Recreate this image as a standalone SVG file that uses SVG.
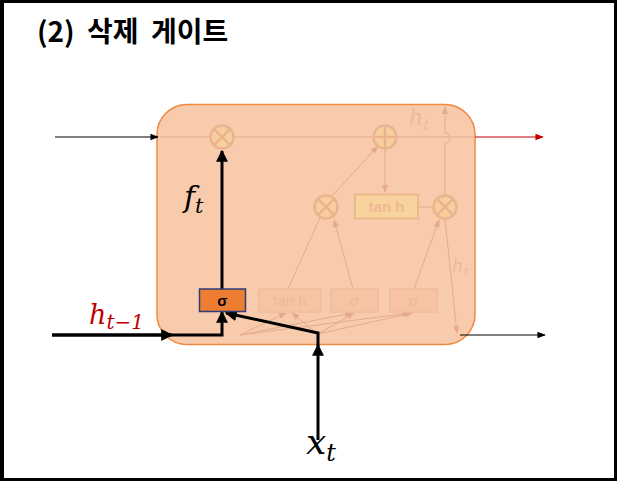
<svg xmlns="http://www.w3.org/2000/svg" width="617" height="481" viewBox="0 0 617 481">
<defs>
<style>
.fl{stroke:#e3ab8c;stroke-width:1;fill:none}
.fc{fill:#f7cf9c;stroke:#e9b48f;stroke-width:2.5}
.fx{stroke:#e9b48f;stroke-width:2.5}
.fb{fill:#f6c4a2;stroke:#efbc9c;stroke-width:1.5}
.ft{font-family:"Liberation Sans",Arial,sans-serif;font-size:15px;fill:#efb895;text-anchor:middle}
.bk{stroke:#000;stroke-width:3;fill:none}
.thin{stroke-width:1.2;fill:none}
.math{font-family:"DejaVu Serif","Liberation Serif",serif;font-style:italic}
</style>
<marker id="ab" viewBox="0 0 10 10" refX="9" refY="5" markerWidth="4" markerHeight="4" orient="auto"><path d="M0,0L10,5L0,10z" fill="#000"/></marker>
<marker id="abs" viewBox="0 0 10 10" refX="9" refY="5" markerWidth="7" markerHeight="7" orient="auto"><path d="M0,1L10,5L0,9z" fill="#000"/></marker>
<marker id="ar" viewBox="0 0 10 10" refX="9" refY="5" markerWidth="7" markerHeight="7" orient="auto"><path d="M0,1L10,5L0,9z" fill="#c00000"/></marker>
<marker id="af" viewBox="0 0 10 10" refX="9" refY="5" markerWidth="8" markerHeight="8" orient="auto"><path d="M0,1L10,5L0,9z" fill="#e3ab8c"/></marker>
</defs>
<rect x="0" y="0" width="617" height="481" fill="#000"/>
<rect x="4" y="3" width="610" height="475" fill="#fff"/>
<text x="37" y="42" font-family="'Malgun Gothic','Noto Sans CJK KR',sans-serif" font-weight="bold" font-size="28" word-spacing="6" fill="#000">(2) 삭제 게이트</text>

<g id="cell">
<rect x="157" y="104.5" width="318" height="240" rx="30" ry="30" fill="#f8cbad" stroke="#f08a3e" stroke-width="1.5"/>
</g>

<g id="internals">
<line class="fl" x1="160" y1="137" x2="475" y2="137"/>
<path class="fl" d="M385,149V192" marker-end="url(#af)"/>
<path class="fl" d="M418,207H433"/>
<path class="fl" d="M445,195V143a4,4 0 0 0 0,-10V107" marker-end="url(#af)"/>
<path class="fl" d="M332,196L378,146" marker-end="url(#af)"/>
<path class="fl" d="M288,289L320,218"/>
<path class="fl" d="M353,289L334,220" marker-end="url(#af)"/>
<path class="fl" d="M414,289L439,220" marker-end="url(#af)"/>
<path class="fl" d="M445,219L457,333" marker-end="url(#af)"/>
<path class="fl" d="M240,335L286,313" marker-end="url(#af)"/>
<path class="fl" d="M318,334L292,313" marker-end="url(#af)"/>
<path class="fl" d="M240,335L352,313" marker-end="url(#af)"/>
<path class="fl" d="M318,334L354,313" marker-end="url(#af)"/>
<path class="fl" d="M240,335L410,313" marker-end="url(#af)"/>
<path class="fl" d="M318,334L412,313" marker-end="url(#af)"/>
</g>

<g id="mul1"><circle class="fc" cx="222" cy="137" r="11.5"/><path class="fx" d="M214,129L230,145M230,129L214,145"/></g>
<g id="add"><circle class="fc" cx="385" cy="137" r="11.5"/><path class="fx" d="M373.5,137H396.5M385,125.5V148.5"/></g>
<g id="mul2"><circle class="fc" cx="326" cy="207" r="11.5"/><path class="fx" d="M318,199L334,215M334,199L318,215"/></g>
<g id="mul3"><circle class="fc" cx="445" cy="207" r="11.5"/><path class="fx" d="M437,199L453,215M453,199L437,215"/></g>
<g id="tanh_top"><rect x="355" y="194.5" width="63" height="24" fill="#f9d39d" stroke="#ecbb8d" stroke-width="2"/><text class="ft" x="386.5" y="212" font-weight="bold">tan h</text></g>
<g id="tanh_bot"><rect class="fb" x="259" y="289" width="62" height="23"/><text class="ft" x="290" y="306">tan h</text></g>
<g id="sig2"><rect class="fb" x="331" y="289" width="47" height="23"/><text class="ft" x="354.5" y="306">σ</text></g>
<g id="sig3"><rect class="fb" x="390" y="289" width="47" height="23"/><text class="ft" x="413.5" y="306">σ</text></g>
<text class="math" x="409" y="125" font-size="22" fill="#f0b99c">h<tspan font-size="15" dy="5">t</tspan></text>
<text class="math" x="452" y="272" font-size="18" fill="#f0b99c">h<tspan font-size="13" dy="4">t</tspan></text>

<g id="connectors">
<path class="thin" d="M55,137H158" stroke="#000" marker-end="url(#abs)"/>
<path class="thin" d="M475,137H543" stroke="#c00000" marker-end="url(#ar)"/>
<path class="thin" d="M460,335H545" stroke="#000" marker-end="url(#abs)"/>
<path class="bk" d="M52,335H222V312" marker-end="url(#ab)"/>
<path class="bk" d="M222,289V151" marker-end="url(#ab)"/>
<path class="bk" d="M318,440V345" marker-end="url(#ab)"/>
<path class="bk" d="M318,346V333L226,313" marker-end="url(#ab)"/>
<path class="bk" d="M52,335H172" marker-end="url(#ab)"/>
</g>

<g id="sigma_f">
<rect x="199.5" y="289" width="46" height="22.5" fill="#ed7d31" stroke="#2f3b7a" stroke-width="1.5"/>
<text x="222.5" y="306" font-family="'Liberation Sans',Arial,sans-serif" font-weight="bold" font-size="15" text-anchor="middle" fill="#000">σ</text>
</g>

<text class="math" x="184" y="207" font-size="30" fill="#000">f<tspan font-size="21" dy="6">t</tspan></text>
<text class="math" x="89" y="324" font-size="27" fill="#c00000">h<tspan font-size="20" dy="5">t−1</tspan></text>
<text class="math" x="306" y="454" font-size="36" fill="#000">x<tspan font-size="24" dy="7">t</tspan></text>
</svg>
